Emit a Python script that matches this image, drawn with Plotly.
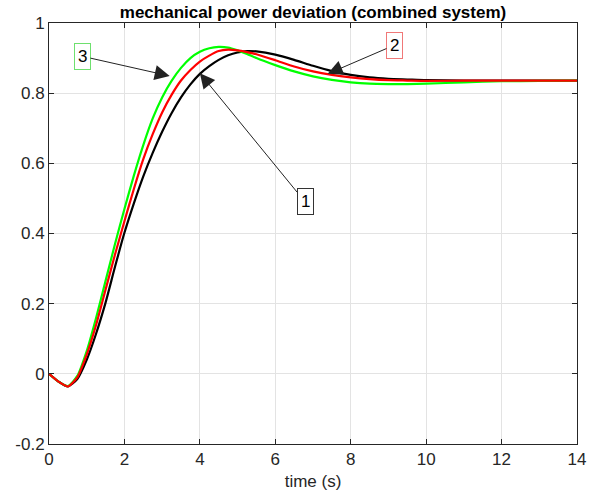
import plotly.graph_objects as go

t = [0, 0.25, 0.5, 0.75, 1.0, 1.25, 1.5, 1.75, 2.0, 2.25, 2.5, 2.75, 3.0, 3.25, 3.5, 3.75,
     4.0, 4.25, 4.5, 4.75, 5.0, 5.25, 5.5, 6.0, 6.5, 7.0, 7.5, 8.0, 8.5, 9.0, 9.5, 10, 11, 12, 13, 14]

p1 = [0, -0.022, -0.036, -0.015, 0.04, 0.115, 0.203, 0.305, 0.402, 0.486, 0.563, 0.63, 0.69, 0.743,
      0.788, 0.825, 0.855, 0.877, 0.895, 0.908, 0.916, 0.92, 0.919, 0.91, 0.895, 0.878, 0.863,
      0.852, 0.845, 0.841, 0.839, 0.837, 0.836, 0.836, 0.836, 0.836]

p2 = [0, -0.022, -0.036, -0.01, 0.055, 0.14, 0.24, 0.34, 0.435, 0.527, 0.612, 0.683, 0.745, 0.795,
      0.836, 0.866, 0.89, 0.907, 0.92, 0.924, 0.922, 0.917, 0.911, 0.894, 0.876, 0.862, 0.852,
      0.845, 0.840, 0.837, 0.836, 0.835, 0.836, 0.836, 0.836, 0.836]

p3 = [0, -0.022, -0.035, -0.006, 0.065, 0.16, 0.265, 0.37, 0.47, 0.565, 0.652, 0.728, 0.788, 0.835,
      0.872, 0.9, 0.918, 0.928, 0.932, 0.93, 0.922, 0.912, 0.9, 0.88, 0.862, 0.848, 0.838,
      0.831, 0.827, 0.826, 0.826, 0.827, 0.831, 0.834, 0.835, 0.836]

x_ticks = [0, 2, 4, 6, 8, 10, 12, 14]
y_ticks = [-0.2, 0, 0.2, 0.4, 0.6, 0.8, 1]
y_labels = ["-0.2", "0", "0.2", "0.4", "0.6", "0.8", "1"]

# annotation: label, tip (x, y), text position (x, y), box colour
notes = [
    ("1", 4.0, 0.857, 6.79, 0.49, "#333333"),
    ("2", 7.39, 0.855, 9.16, 0.937, "#f07878"),
    ("3", 3.2, 0.849, 0.887, 0.905, "#6ee06e"),
]

FONT = "Liberation Sans, Arial, sans-serif"
AX = "#262626"

fig = go.Figure()
for y, c in [(p1, "#000000"), (p3, "#00ff00"), (p2, "#ff0000")]:
    fig.add_trace(go.Scatter(x=t, y=y, mode="lines",
                             line=dict(color=c, width=2.2, shape="spline", smoothing=0.6),
                             showlegend=False, hoverinfo="skip"))

for lab, x0, y0, xt, yt, bc in notes:
    fig.add_annotation(x=x0, y=y0, ax=xt, ay=yt, xref="x", yref="y", axref="x", ayref="y",
                       text=lab, showarrow=True, arrowhead=2, arrowsize=3, arrowwidth=1,
                       arrowcolor="#222222", bordercolor=bc, borderwidth=1, borderpad=3,
                       bgcolor="white", font=dict(family=FONT, size=17, color="#000000"))

fig.update_layout(
    width=593, height=500,
    margin=dict(l=49, r=16, t=23, b=56, autoexpand=False),
    paper_bgcolor="white", plot_bgcolor="white",
    title=dict(text="<b>mechanical power deviation (combined system)</b>",
               x=(49 + 577) / 2 / 593, xanchor="center", y=1 - 12 / 500, yanchor="middle",
               font=dict(family=FONT, size=17, color="#000000")),
    font=dict(family=FONT, size=17, color=AX),
)
fig.update_xaxes(range=[0, 14], tickvals=x_ticks, ticks="inside", ticklen=5, tickcolor=AX,
                 showline=True, linecolor=AX, linewidth=1, mirror="allticks", automargin=False,
                 showgrid=True, gridcolor="#e3e3e3", gridwidth=1, zeroline=False,
                 tickfont=dict(family=FONT, size=17, color=AX),
                 title=dict(text="time (s)", standoff=6, font=dict(family=FONT, size=17, color=AX)))
fig.update_yaxes(range=[-0.2, 1], tickvals=y_ticks, ticktext=y_labels, ticks="inside", ticklen=5,
                 tickcolor=AX, showline=True, linecolor=AX, linewidth=1, mirror="allticks",
                 automargin=False,
                 showgrid=True, gridcolor="#e3e3e3", gridwidth=1, zeroline=False,
                 tickfont=dict(family=FONT, size=17, color=AX))

fig.write_html("out.html")
